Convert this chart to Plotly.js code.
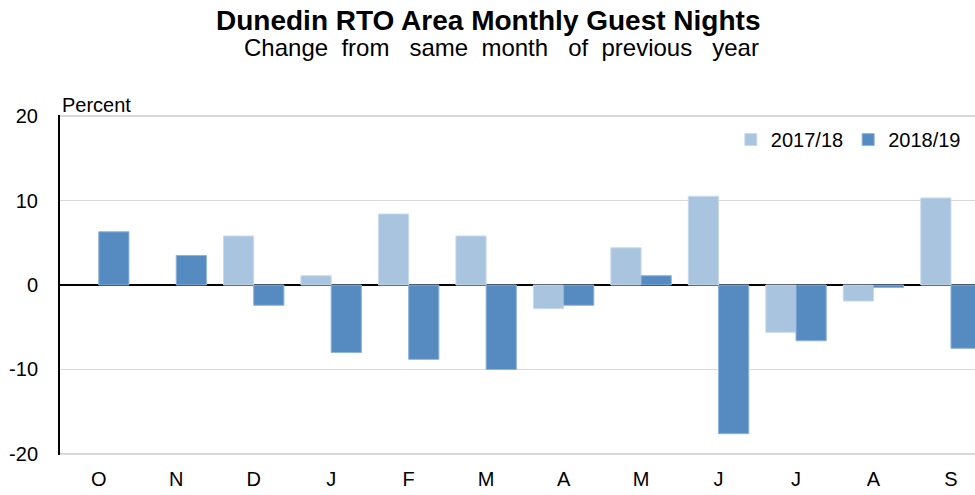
<!DOCTYPE html>
<html>
<head>
<meta charset="utf-8">
<script src="https://cdn.plot.ly/plotly-3.0.1.min.js"></script>
<style>html,body{margin:0;padding:0;background:#fff;}#chart{width:975px;height:495px;}</style>
</head>
<body>
<div id="chart"></div>
<script>
const months = ["O","N","D","J","F","M","A","M","J","J","A","S"];
const series2017 = [null, null, 5.8, 1.1, 8.4, 5.8, -2.8, 4.4, 10.5, -5.6, -1.9, 10.3];
const series2018 = [6.3, 3.5, -2.4, -8.0, -8.8, -10.0, -2.4, 1.1, -17.6, -6.6, -0.3, -7.5];
const seriesNames = ["2017/18", "2018/19"];
const yTicks = [-20, -10, 0, 10, 20];

const idx = months.map((m, i) => i);
const font = "Liberation Sans, Arial, sans-serif";

const traces = [
  {type: "bar", name: seriesNames[0], x: idx, y: series2017,
   marker: {color: "#A9C4DF", line: {color: "#C9DAEC", width: 1}}},
  {type: "bar", name: seriesNames[1], x: idx, y: series2018,
   marker: {color: "#558BC1", line: {color: "#8FB3D9", width: 1}}}
];

const nb = n => "\u00A0".repeat(n);
const subtitle = "Change" + nb(2) + "from" + nb(3) + "same" + nb(2) + "month" + nb(3) + "of" + nb(2) + "previous" + nb(3) + "year";

const layout = {
  width: 975, height: 495,
  margin: {l: 60, r: 0, t: 115, b: 40},
  paper_bgcolor: "#fff", plot_bgcolor: "#fff",
  font: {family: font, size: 20, color: "#000"},
  barmode: "group", bargap: 0.22, bargroupgap: 0,
  showlegend: true,
  legend: {orientation: "h", x: 0.99, xanchor: "right", y: 0.985, yanchor: "top",
           font: {size: 20}, bgcolor: "rgba(0,0,0,0)", traceorder: "normal",
           itemwidth: 30, tracegroupgap: 0},
  xaxis: {range: [-0.5, 11.31], tickmode: "array", tickvals: idx, ticktext: months,
          showgrid: false, zeroline: false, showline: false, ticks: "",
          tickfont: {size: 20}, ticklabelstandoff: 10, fixedrange: true},
  yaxis: {range: [-20.12, 20.12], tickmode: "array", tickvals: yTicks, ticktext: yTicks.map(String),
          showgrid: true, gridcolor: "#D9D9D9", gridwidth: 1.5,
          zeroline: true, zerolinecolor: "#000", zerolinewidth: 2,
          showline: true, linecolor: "#000", linewidth: 2, ticks: "",
          tickfont: {size: 20}, ticklabelstandoff: 16},
  annotations: [
    {text: "<b>Dunedin RTO Area Monthly Guest Nights</b>", xref: "paper", yref: "paper",
     x: (488 - 60) / 915, y: 1, yshift: 95, xanchor: "center", yanchor: "middle", showarrow: false,
     font: {size: 28}},
    {text: subtitle, xref: "paper", yref: "paper",
     x: (501 - 60) / 915, y: 1, yshift: 68, xanchor: "center", yanchor: "middle", showarrow: false,
     font: {size: 24}},
    {text: "Percent", xref: "paper", yref: "paper", x: 0, xshift: 0, y: 1, yshift: 10,
     xanchor: "left", yanchor: "middle", showarrow: false, font: {size: 20}}
  ]
};

Plotly.newPlot("chart", traces, layout, {displayModeBar: false, staticPlot: true});
</script>
</body>
</html>
